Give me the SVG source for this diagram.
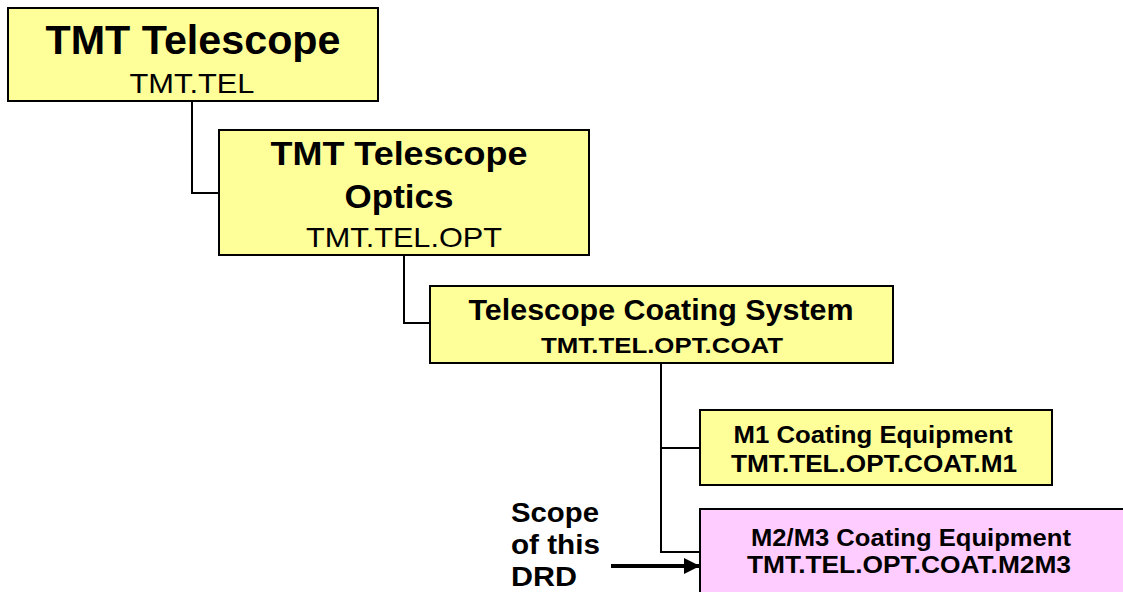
<svg xmlns="http://www.w3.org/2000/svg" width="1123" height="592" viewBox="0 0 1123 592">
<style>
.box{stroke:#000;stroke-width:2}
.y{fill:#FFFF99}
.p{fill:#FFCCFF}
.t{font-family:"Liberation Sans",Arial,sans-serif;text-anchor:middle;fill:#000}
.b{font-weight:bold}
.c{fill:none;stroke:#000;stroke-width:2}
</style>
<defs>
<marker id="ah" markerWidth="16" markerHeight="16" refX="16" refY="8" orient="auto" markerUnits="userSpaceOnUse">
<path d="M0,0 L16,8 L0,16 Z" fill="#000"/>
</marker>
</defs>
<rect width="1123" height="592" fill="#fff"/>
<g id="connectors">
<path class="c" d="M192,101 V193 H219"/>
<path class="c" d="M404,255 V323 H430"/>
<path class="c" d="M661,363 V552 H700"/>
<path class="c" d="M661,448 H700"/>
<line x1="611" y1="566" x2="700" y2="566" stroke="#000" stroke-width="4" marker-end="url(#ah)"/>
</g>
<g id="tel">
<rect class="box y" x="8" y="8" width="370" height="93"/>
<text class="t b" x="193" y="54" font-size="40" textLength="295" lengthAdjust="spacingAndGlyphs">TMT Telescope</text>
<text class="t" x="192" y="93" font-size="28" textLength="125" lengthAdjust="spacingAndGlyphs">TMT.TEL</text>
</g>
<g id="opt">
<rect class="box y" x="219" y="130" width="370" height="125"/>
<text class="t b" x="399" y="165" font-size="33" textLength="257" lengthAdjust="spacingAndGlyphs">TMT Telescope</text>
<text class="t b" x="399" y="208" font-size="33" textLength="109" lengthAdjust="spacingAndGlyphs">Optics</text>
<text class="t" x="404" y="247" font-size="28" textLength="196" lengthAdjust="spacingAndGlyphs">TMT.TEL.OPT</text>
</g>
<g id="coat">
<rect class="box y" x="430" y="286" width="463" height="77"/>
<text class="t b" x="661" y="320" font-size="29" textLength="385" lengthAdjust="spacingAndGlyphs">Telescope Coating System</text>
<text class="t b" x="662" y="353" font-size="22" textLength="242" lengthAdjust="spacingAndGlyphs">TMT.TEL.OPT.COAT</text>
</g>
<g id="m1">
<rect class="box y" x="700" y="410" width="352" height="75"/>
<text class="t b" x="873" y="443" font-size="24" textLength="279" lengthAdjust="spacingAndGlyphs">M1 Coating Equipment</text>
<text class="t b" x="874" y="472" font-size="24" textLength="286" lengthAdjust="spacingAndGlyphs">TMT.TEL.OPT.COAT.M1</text>
</g>
<g id="m2m3">
<rect class="box p" x="700" y="509" width="440" height="100"/>
<text class="t b" x="911" y="546" font-size="24" textLength="320" lengthAdjust="spacingAndGlyphs">M2/M3 Coating Equipment</text>
<text class="t b" x="909" y="573" font-size="24" textLength="324" lengthAdjust="spacingAndGlyphs">TMT.TEL.OPT.COAT.M2M3</text>
</g>
<g id="scope">
<text class="b" font-family="Liberation Sans, Arial, sans-serif" font-size="28" x="511" y="522" textLength="88" lengthAdjust="spacingAndGlyphs">Scope</text>
<text class="b" font-family="Liberation Sans, Arial, sans-serif" font-size="28" x="511" y="554" textLength="89" lengthAdjust="spacingAndGlyphs">of this</text>
<text class="b" font-family="Liberation Sans, Arial, sans-serif" font-size="28" x="511" y="586" textLength="66" lengthAdjust="spacingAndGlyphs">DRD</text>
</g>
</svg>
